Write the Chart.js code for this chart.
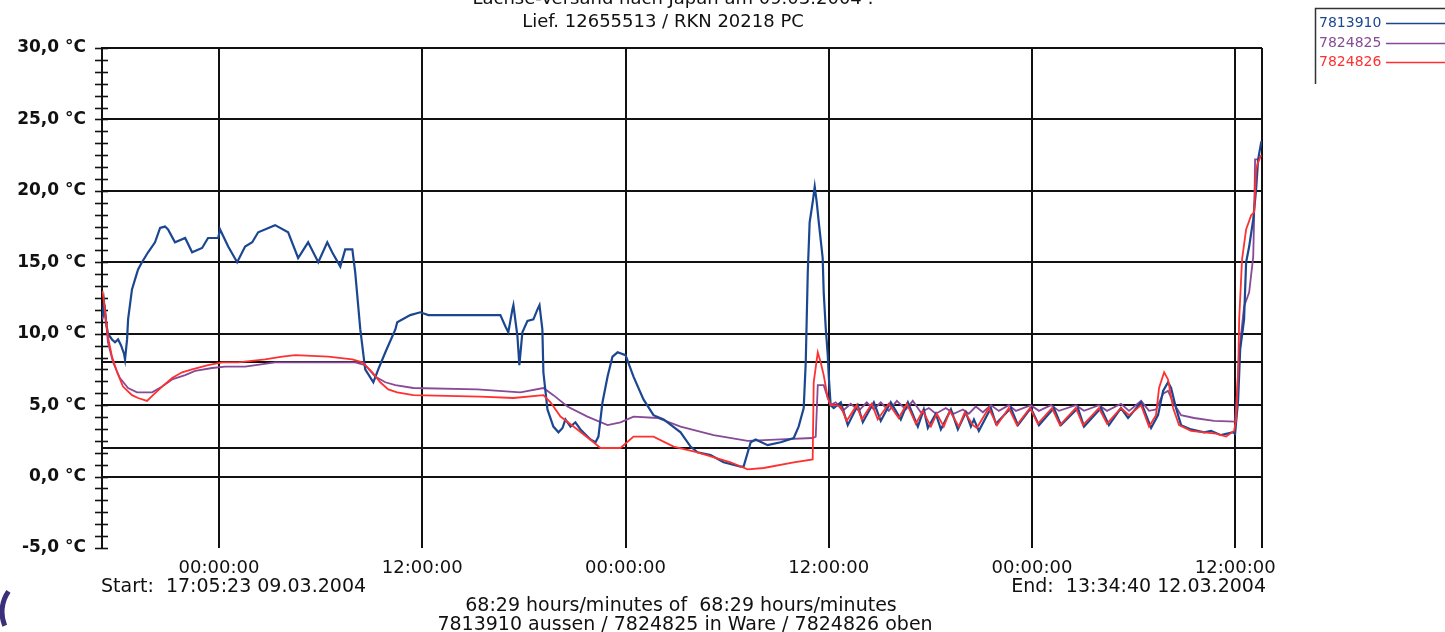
<!DOCTYPE html>
<html>
<head>
<meta charset="utf-8">
<script src="https://cdn.jsdelivr.net/npm/chart.js@4"></script>
<style>
html,body{margin:0;padding:0;background:#fff;}
canvas{display:block;}
</style>
</head>
<body>
<canvas id="c" width="1445" height="632"></canvas>
<script>
// ---- data (hours since start 17:05:23 09.03.2004, °C) ----
const seriesNames = ['7813910', '7824825', '7824826'];

const blueT = [0.03,0.12,0.24,0.35,0.59,0.77,0.95,1.12,1.30,1.36,1.48,1.54,1.77,1.95,2.13,2.36,2.72,3.13,3.43,3.72,3.90,4.31,4.91,5.32,5.91,6.26,6.86,6.97,7.45,7.98,8.45,8.87,9.22,10.22,10.99,11.58,12.17,12.77,13.30,13.59,14.07,14.36,14.78,14.95,15.25,15.54,16.02,16.31,16.73,17.32,17.43,18.20,18.79,19.27,23.52,23.82,23.99,24.23,24.29,24.53,24.64,24.82,25.12,25.47,25.71,25.83,26.00,26.06,26.30,26.65,26.95,27.19,27.36,27.66,27.95,28.25,28.84,29.14,29.31,29.55,29.85,30.14,30.44,30.91,31.38,31.97,32.56,33.16,34.16,34.75,35.16,35.93,36.70,37.71,37.88,38.30,38.59,39.30,40.07,40.84,41.13,41.43,41.55,41.67,41.78,41.96,42.08,42.20,42.32,42.55,42.61,42.73,42.85,42.91,43.02,
  43.20,43.62,44.03,44.62,44.92,45.57,45.98,46.57,47.16,47.58,48.17,48.52,48.76,49.23,49.53,50.12,50.53,51.00,51.30,51.48,51.77,52.48,52.78,53.66,54.08,54.84,55.32,56.20,56.62,57.62,57.98,58.98,59.45,60.16,60.58,61.35,61.94,62.35,62.65,62.94,63.12,63.41,63.71,64.30,65.07,65.48,66.07,66.78,66.90,67.08,67.20,67.43,67.55,67.73,67.97,68.14,68.26,68.44,68.48];
const blueV = [11.2,12.2,10.8,10.0,9.6,9.4,9.6,9.2,8.6,8.2,9.6,11.0,13.1,13.8,14.5,15.0,15.7,16.4,17.4,17.5,17.3,16.4,16.7,15.7,16.0,16.7,16.7,17.3,16.1,15.0,16.1,16.4,17.1,17.6,17.1,15.3,16.4,15.0,16.4,15.7,14.7,15.9,15.9,14.3,10.3,7.5,6.6,7.5,8.7,10.3,10.8,11.3,11.5,11.3,11.3,10.5,10.1,11.7,12.0,9.8,7.8,10.1,10.9,11.0,11.7,12.0,10.3,7.3,4.7,3.5,3.1,3.4,4.0,3.5,3.8,3.3,2.6,2.4,2.8,5.2,7.0,8.4,8.7,8.5,7.0,5.4,4.3,4.0,3.1,2.1,1.7,1.5,1.0,0.7,0.7,2.4,2.6,2.2,2.4,2.7,3.5,4.8,8.0,14.3,17.8,19.2,20.3,19.2,17.8,15.3,12.9,10.4,8.5,7.0,5.0,
  4.8,5.2,3.6,5.0,3.8,5.2,3.9,5.2,4.0,5.2,3.5,4.7,3.4,4.4,3.3,4.7,3.3,4.5,3.5,4.0,3.2,4.8,3.7,4.8,3.6,4.8,3.6,4.8,3.6,4.8,3.5,4.8,3.6,4.8,4.1,5.2,3.4,4.3,6.0,6.6,6.2,4.8,3.6,3.3,3.1,3.2,2.9,3.1,3.0,5.4,8.9,11.0,15.0,16.1,18.0,20.1,22.2,23.4,23.5];

const purpleT = [0.03,0.18,0.35,0.65,1.06,1.54,2.07,2.96,3.55,4.14,4.91,5.50,6.50,7.27,8.45,10.22,12.41,14.95,15.54,16.13,16.73,17.32,18.38,22.16,24.70,26.06,26.65,27.48,28.66,29.85,30.61,31.38,32.80,34.16,36.11,38.12,40.07,41.96,42.14,42.26,42.61,42.85,43.02,
  43.32,43.73,44.21,44.68,45.15,45.57,45.98,46.45,46.93,47.46,47.87,48.34,48.82,49.23,49.82,50.29,50.83,51.18,51.59,52.01,52.48,52.95,53.54,53.96,54.84,55.32,56.03,56.50,57.50,57.98,58.86,59.34,60.16,60.64,61.35,61.82,62.23,62.65,62.94,63.24,63.71,64.48,65.66,66.90,67.02,67.14,67.43,67.73,67.97,68.02,68.08,68.32];
const purpleV = [11.0,11.7,9.4,8.0,6.9,6.2,5.9,5.9,6.3,6.8,7.1,7.4,7.6,7.7,7.7,8.0,8.0,8.0,7.8,7.0,6.6,6.4,6.2,6.1,5.9,6.2,5.7,4.9,4.2,3.6,3.8,4.2,4.1,3.5,2.9,2.5,2.6,2.7,2.8,6.4,6.4,5.5,5.0,
  5.2,4.6,5.1,4.6,5.2,4.7,5.2,4.6,5.3,4.7,5.3,4.5,4.8,4.4,4.8,4.4,4.7,4.4,4.9,4.5,5.0,4.6,5.0,4.6,5.0,4.6,5.0,4.6,5.0,4.6,5.0,4.6,5.1,4.6,5.3,4.6,4.7,5.8,6.0,5.2,4.3,4.1,3.9,3.85,6.0,8.7,11.9,12.9,15.4,18.0,22.2,22.2];

const redT = [0.03,0.12,0.18,0.35,0.59,0.89,1.24,1.77,2.13,2.66,3.01,3.55,4.14,4.73,5.32,6.26,7.09,8.04,9.63,10.64,11.41,13.36,14.78,15.37,15.96,16.43,16.90,17.43,18.38,22.34,24.29,26.06,26.48,27.07,27.84,29.02,29.43,30.61,31.38,32.56,33.75,35.16,37.11,38.12,39.07,40.84,41.96,42.02,42.26,42.43,42.61,42.85,43.02,
  43.32,43.62,43.97,44.56,44.86,45.45,45.80,46.45,47.04,47.52,48.05,48.46,48.94,49.29,49.70,50.06,50.59,50.94,51.42,51.65,52.36,52.84,53.54,54.02,54.79,55.26,56.09,56.56,57.50,57.92,58.86,59.34,60.16,60.64,61.35,61.82,62.23,62.41,62.71,62.94,63.24,63.59,64.30,65.07,65.78,66.37,66.84,66.96,67.08,67.14,67.31,67.55,67.85,68.02,68.14,68.26,68.44];
const redV = [13.0,12.2,11.5,9.8,8.4,7.3,6.3,5.7,5.5,5.3,5.7,6.3,6.9,7.3,7.5,7.8,8.0,8.0,8.2,8.4,8.5,8.4,8.2,8.0,7.3,6.6,6.1,5.9,5.7,5.6,5.5,5.7,5.2,4.2,3.5,2.4,2.0,2.0,2.8,2.8,2.1,1.7,1.0,0.5,0.6,1.0,1.2,6.6,8.7,8.0,7.1,5.5,5.0,
  5.0,4.9,3.9,5.0,4.0,5.1,4.0,5.1,4.1,5.1,3.7,4.6,3.5,4.4,3.5,4.6,3.5,4.5,3.6,3.4,4.8,3.6,4.8,3.6,4.8,3.7,4.8,3.6,4.8,3.6,4.8,3.7,4.8,4.3,5.0,3.5,4.3,6.2,7.3,6.8,4.8,3.6,3.2,3.1,3.0,2.8,3.2,4.0,7.3,11.0,15.2,17.3,18.3,18.5,21.5,22.0,22.5];

const yTickValues = [-5, 0, 2, 5, 8, 10, 15, 20, 25, 30];
const yLabelValues = [-5, 0, 5, 10, 15, 20, 25, 30];
const xTickValues = [6.9103, 18.9103, 30.9103, 42.9103, 54.9103, 66.9103];
const xTickLabels = ['00:00:00', '12:00:00', '00:00:00', '12:00:00', '00:00:00', '12:00:00'];
const xMax = 68.488;
const titleLine1 = 'Lachse-Versand nach Japan am 09.03.2004 :';
const titleLine2 = 'Lief. 12655513 / RKN 20218 PC';
const startText = 'Start:  17:05:23 09.03.2004';
const endText = 'End:  13:34:40 12.03.2004';
const footer1 = '68:29 hours/minutes of  68:29 hours/minutes';
const footer2 = '7813910 aussen / 7824825 in Ware / 7824826 oben';

const colors = ['#1b4790', '#874a96', '#ff3030'];

function pts(t, v) { return t.map((x, i) => ({x: x, y: v[i]})); }

const FONT = '"DejaVu Sans", sans-serif';

const decor = {
  id: 'decor',
  beforeDatasetsDraw(chart) {
    const ctx = chart.ctx, y = chart.scales.y, a = chart.chartArea;
    ctx.save();
    ctx.strokeStyle = '#111';
    ctx.lineWidth = 1.6;
    for (let k = 0; k <= 42; k++) {
      const v = -5 + k * 5 / 6;
      const py = Math.round(y.getPixelForValue(v)) + 0.5;
      ctx.beginPath();
      ctx.moveTo(a.left - 7, py);
      ctx.lineTo(a.left + 6, py);
      ctx.stroke();
    }
    ctx.restore();
  },
  afterDraw(chart) {
    const ctx = chart.ctx;
    ctx.save();
    ctx.fillStyle = '#111';
    ctx.textAlign = 'center';
    ctx.textBaseline = 'alphabetic';
    ctx.font = '18px ' + FONT;
    ctx.fillText(titleLine1, 673, 4);
    ctx.fillText(titleLine2, 663, 27);
    ctx.textAlign = 'left';
    ctx.font = '19px ' + FONT;
    ctx.fillText(startText, 101, 592);
    ctx.textAlign = 'right';
    ctx.fillText(endText, 1266, 592);
    ctx.textAlign = 'center';
    ctx.fillText(footer1, 681, 611);
    ctx.fillText(footer2, 685, 630);

    // legend box
    ctx.strokeStyle = '#333';
    ctx.lineWidth = 1.5;
    ctx.beginPath();
    ctx.moveTo(1446, 8.5);
    ctx.lineTo(1315.5, 8.5);
    ctx.lineTo(1315.5, 84);
    ctx.stroke();
    ctx.font = '14px ' + FONT;
    ctx.textAlign = 'left';
    ctx.textBaseline = 'middle';
    const ly = [23, 43, 62];
    for (let i = 0; i < 3; i++) {
      ctx.fillStyle = colors[i];
      ctx.fillText(seriesNames[i], 1319, ly[i]);
      ctx.strokeStyle = colors[i];
      ctx.lineWidth = 1.3;
      ctx.beginPath();
      ctx.moveTo(1386, ly[i] + 0.5);
      ctx.lineTo(1445, ly[i] + 0.5);
      ctx.stroke();
    }
    // partial logo arc at lower left
    ctx.strokeStyle = '#3a2f78';
    ctx.lineWidth = 5;
    ctx.beginPath();
    ctx.arc(38, 612, 36, 2.75, 3.75);
    ctx.stroke();
    ctx.restore();
  }
};

new Chart(document.getElementById('c'), {
  type: 'line',
  data: {
    datasets: [
      {label: seriesNames[0], data: pts(blueT, blueV), borderColor: colors[0], borderWidth: 2.2, order: 2},
      {label: seriesNames[1], data: pts(purpleT, purpleV), borderColor: colors[1], borderWidth: 1.8, order: 3},
      {label: seriesNames[2], data: pts(redT, redV), borderColor: colors[2], borderWidth: 1.8, order: 1}
    ]
  },
  options: {
    responsive: false,
    animation: false,
    devicePixelRatio: 1,
    layout: {padding: {left: 0, right: 183, top: 48, bottom: 0}},
    elements: {point: {radius: 0}, line: {tension: 0, fill: false}},
    plugins: {legend: {display: false}, tooltip: {enabled: false}, title: {display: false}},
    scales: {
      x: {
        type: 'linear',
        min: 0,
        max: xMax,
        afterBuildTicks(s) {
          s.ticks = xTickValues.map(v => ({value: v})).concat([{value: xMax}]);
        },
        afterFit(s) { s.height = 84; },
        ticks: {
          autoSkip: false,
          maxRotation: 0,
          padding: 10,
          color: '#111',
          font: {family: FONT, size: 18},
          callback: (v, i) => (i < xTickLabels.length ? xTickLabels[i] : '')
        },
        grid: {color: '#111', lineWidth: 2, drawTicks: false},
        border: {display: false}
      },
      y: {
        type: 'linear',
        min: -5,
        max: 30,
        afterBuildTicks(s) {
          s.ticks = yTickValues.map(v => ({value: v}));
        },
        afterFit(s) { s.width = 102; },
        ticks: {
          autoSkip: false,
          padding: 16,
          color: '#111',
          font: {family: FONT, size: 17, weight: 'bold'},
          callback: v => (yLabelValues.includes(v) ? v.toFixed(1).replace('.', ',') + ' °C' : '')
        },
        grid: {
          drawTicks: false,
          lineWidth: 2,
          color: c => (c.tick && c.tick.value === -5 ? 'rgba(0,0,0,0)' : '#111')
        },
        border: {display: true, color: '#111', width: 2}
      }
    }
  },
  plugins: [decor]
});
</script>
</body>
</html>
